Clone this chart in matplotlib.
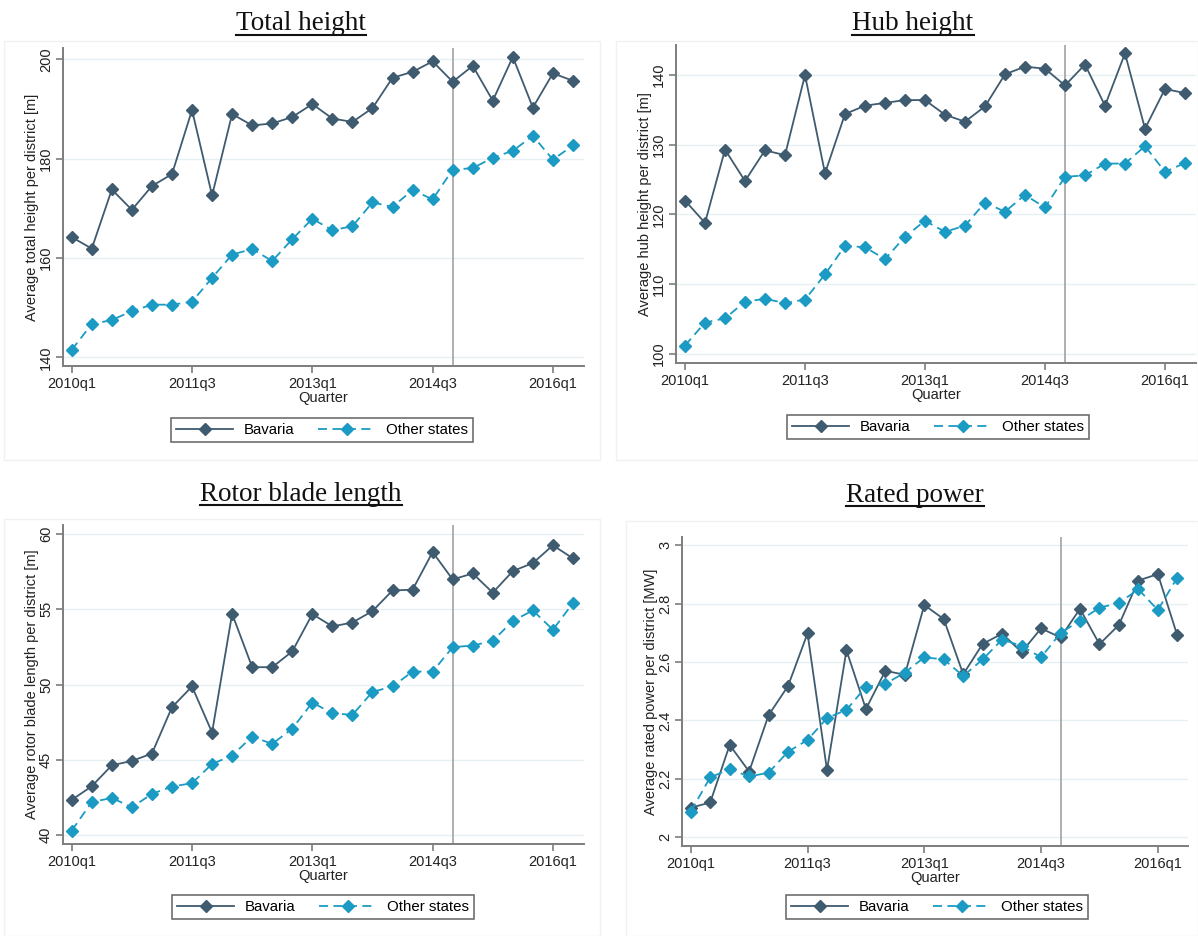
import matplotlib.pyplot as plt
from matplotlib.lines import Line2D
from matplotlib.patches import Rectangle

plt.rcParams['font.family'] = ['Liberation Sans', 'DejaVu Sans']

# Кварталы 2010q1 ... 2016q2
quarters = list(range(26))
tick_pos = [0, 6, 12, 18, 24]
tick_labels = ['2010q1', '2011q3', '2013q1', '2014q3', '2016q1']
treat_q = 19  # 2014q4

total_bav = [164.2, 161.9, 173.8, 169.7, 174.5, 176.9, 189.8, 172.6, 189.0, 186.7, 187.1, 188.4, 191.0,
             188.1, 187.4, 190.2, 196.3, 197.5, 199.6, 195.5, 198.7, 191.7, 200.5, 190.3, 197.2, 195.7]
total_oth = [141.5, 146.7, 147.5, 149.3, 150.6, 150.6, 151.2, 156.0, 160.7, 161.8, 159.4, 163.8, 167.9,
             165.6, 166.4, 171.2, 170.3, 173.7, 171.8, 177.8, 178.1, 180.2, 181.6, 184.6, 179.8, 182.7]

hub_bav = [122.0, 118.8, 129.3, 124.8, 129.2, 128.5, 140.0, 125.9, 134.4, 135.6, 136.0, 136.4, 136.4,
           134.3, 133.3, 135.5, 140.1, 141.2, 140.9, 138.5, 141.5, 135.6, 143.1, 132.3, 138.0, 137.4]
hub_oth = [101.2, 104.5, 105.1, 107.5, 107.9, 107.3, 107.8, 111.4, 115.5, 115.3, 113.6, 116.8, 119.1,
           117.5, 118.4, 121.7, 120.4, 122.8, 121.0, 125.4, 125.6, 127.3, 127.3, 129.8, 126.1, 127.4]

rotor_bav = [42.33, 43.24, 44.63, 44.92, 45.41, 48.49, 49.87, 46.81, 54.70, 51.15, 51.15, 52.20, 54.68,
             53.86, 54.12, 54.88, 56.25, 56.30, 58.80, 56.98, 57.38, 56.10, 57.54, 58.07, 59.25, 58.38]
rotor_oth = [40.29, 42.19, 42.46, 41.84, 42.73, 43.22, 43.44, 44.72, 45.28, 46.54, 46.05, 47.07, 48.80,
             48.09, 47.98, 49.51, 49.87, 50.86, 50.86, 52.48, 52.59, 52.90, 54.23, 54.92, 53.64, 55.41]

power_bav = [2.101, 2.119, 2.316, 2.225, 2.418, 2.518, 2.698, 2.230, 2.640, 2.439, 2.570, 2.556, 2.795,
             2.747, 2.558, 2.662, 2.697, 2.634, 2.715, 2.684, 2.782, 2.661, 2.727, 2.879, 2.901, 2.691]
power_oth = [2.088, 2.205, 2.233, 2.208, 2.221, 2.293, 2.333, 2.408, 2.436, 2.515, 2.525, 2.564, 2.616,
             2.609, 2.552, 2.609, 2.677, 2.655, 2.616, 2.699, 2.742, 2.786, 2.802, 2.849, 2.778, 2.889]

W, H = 1198, 936
BAV = '#3f5b70'
OTH = '#1b9bc4'
AXC = '#7d7d7d'


def px_rect(left, right, top, bottom):
    return [left / W, 1 - bottom / H, (right - left) / W, (bottom - top) / H]


fig = plt.figure(figsize=(W / 100, H / 100), dpi=100)

# Светлые рамки панелей
for (l, t, r, b) in [(4, 41, 600, 460), (616, 41, 1198, 460), (4, 519, 600, 936), (626, 521, 1198, 936)]:
    fig.add_artist(Rectangle((l / W, 1 - b / H), (r - l) / W, (b - t) / H, transform=fig.transFigure,
                             fill=False, edgecolor='#f1f1f1', lw=1))

panels = [
    dict(title='Total height', bav=total_bav, oth=total_oth, ylabel='Average total height per district [m]',
         rect=(62.7, 584, 48, 366), ylim=(138.25, 202.3), yticks=[140, 160, 180, 200],
         ytl=['140', '160', '180', '200'], title_xy=(301, 30), leg=(322, 430)),
    dict(title='Hub height', bav=hub_bav, oth=hub_oth, ylabel='Average hub height per district [m]',
         rect=(676, 1196, 45, 363), ylim=(98.7, 144.3), yticks=[100, 110, 120, 130, 140],
         ytl=['100', '110', '120', '130', '140'], title_xy=(913, 30), leg=(938, 427)),
    dict(title='Rotor blade length', bav=rotor_bav, oth=rotor_oth,
         ylabel='Average rotor blade length per district [m]',
         rect=(62.7, 584, 525, 844), ylim=(39.4, 60.6), yticks=[40, 45, 50, 55, 60],
         ytl=['40', '45', '50', '55', '60'], title_xy=(301, 501), leg=(323, 907)),
    dict(title='Rated power', bav=power_bav, oth=power_oth, ylabel='Average rated power per district [MW]',
         rect=(682, 1188, 537, 846), ylim=(1.97, 3.028), yticks=[2, 2.2, 2.4, 2.6, 2.8, 3],
         ytl=['2', '2.2', '2.4', '2.6', '2.8', '3'], title_xy=(915, 502), leg=(937, 907)),
]

titles = []
for p in panels:
    ax = fig.add_axes(px_rect(*p['rect']))
    ax.plot(quarters, p['bav'], color=BAV, lw=1.3, marker='D', ms=6.3, label='Bavaria', zorder=3)
    ax.plot(quarters, p['oth'], color=OTH, lw=1.3, ls=(0, (5, 3)), marker='D', ms=6.3,
            label='Other states', zorder=3)
    ax.axvline(treat_q, color='#9a9a9a', lw=1.1, zorder=2)
    ax.set_xlim(-0.45, 25.55)
    ax.set_ylim(*p['ylim'])
    ax.set_xticks(tick_pos)
    ax.set_xticklabels(tick_labels, fontsize=10.5)
    ax.set_yticks(p['yticks'])
    ax.set_yticklabels(p['ytl'], fontsize=10.5, rotation=90, va='center')
    ax.grid(axis='y', color='#e6eff1', lw=1)
    ax.set_axisbelow(True)
    for s in ['top', 'right']:
        ax.spines[s].set_visible(False)
    for s in ['left', 'bottom']:
        ax.spines[s].set_color(AXC)
        ax.spines[s].set_linewidth(1.4)
    ax.tick_params(colors=AXC, labelcolor='#222222', length=5, width=1.2, pad=3)
    ax.tick_params(axis='y', pad=2)
    ax.set_xlabel('Quarter', fontsize=10.5, labelpad=0, color='#222222')
    ax.set_ylabel(p['ylabel'], fontsize=10.5, labelpad=0, color='#222222')

    lg = ax.legend(loc='center', bbox_to_anchor=(p['leg'][0] / W, 1 - p['leg'][1] / H),
                   bbox_transform=fig.transFigure, ncol=2, fontsize=10.8, frameon=True, fancybox=False,
                   handlelength=3.8, handletextpad=0.7, columnspacing=1.6, borderpad=0.35)
    lg.get_frame().set_edgecolor('#4a4a4a')
    lg.get_frame().set_linewidth(1.2)

    t = fig.text(p['title_xy'][0] / W, 1 - p['title_xy'][1] / H, p['title'], ha='center', va='baseline',
                 fontsize=19.5, family=['Liberation Serif', 'DejaVu Serif'], color='#111111')
    titles.append((t, p['title_xy'][1]))

# Подчёркивание заголовков
fig.canvas.draw()
renderer = fig.canvas.get_renderer()
for t, yb in titles:
    bb = t.get_window_extent(renderer)
    y = 1 - (yb + 4.5) / H
    fig.add_artist(Line2D([bb.x0 / W, bb.x1 / W], [y, y], transform=fig.transFigure, color='#111111', lw=1.5))

plt.savefig('out.png', dpi=100)
